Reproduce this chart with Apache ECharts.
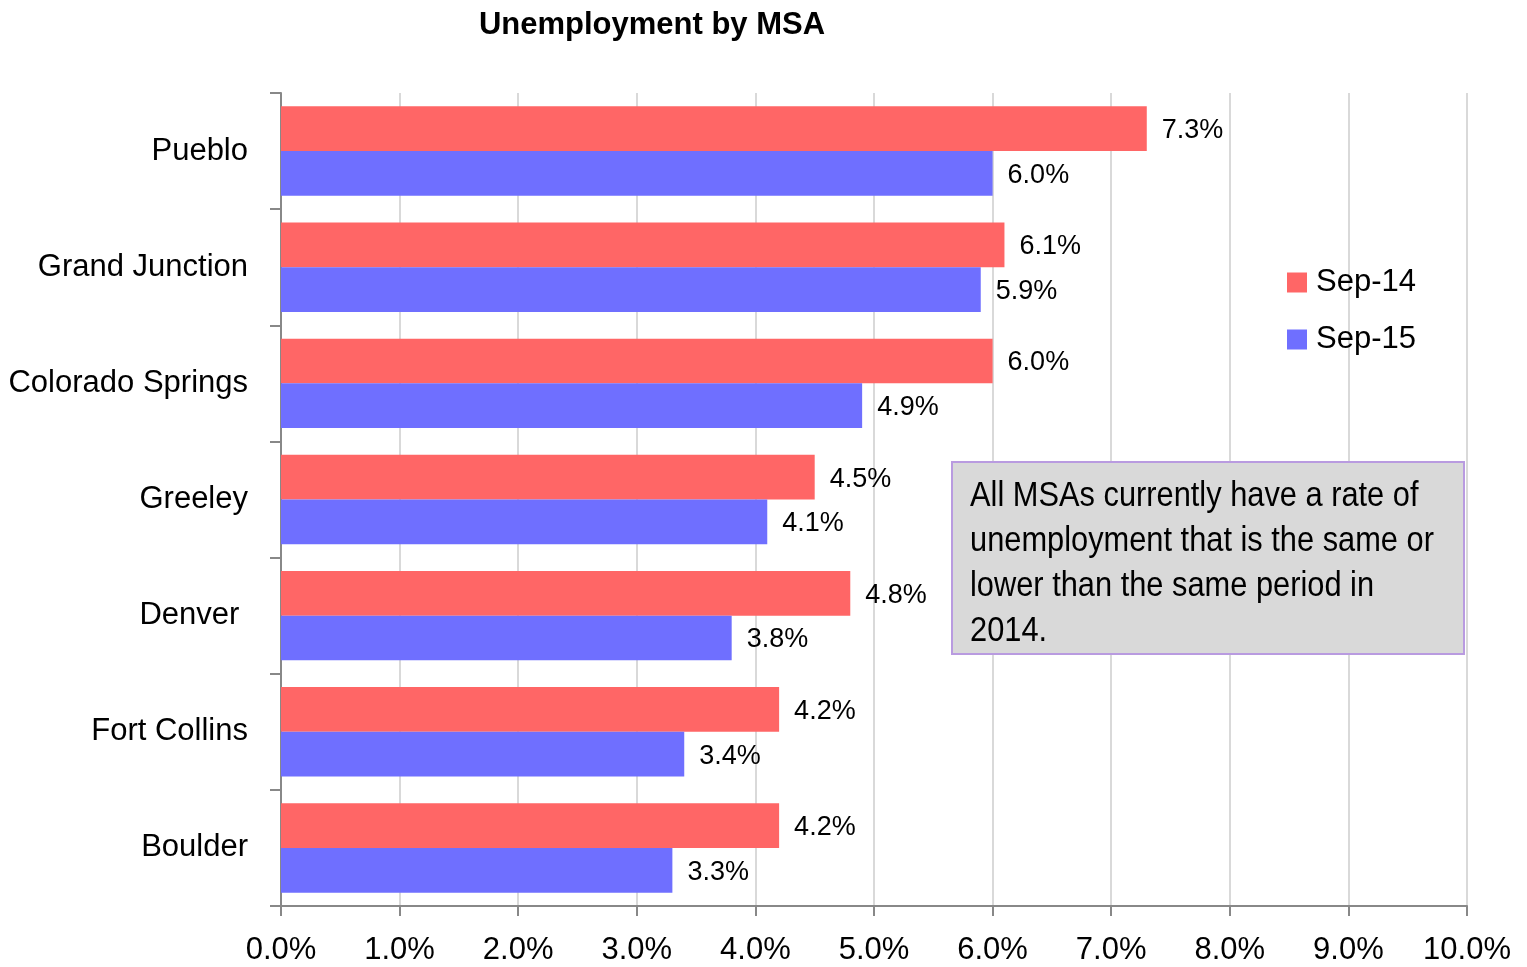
<!DOCTYPE html>
<html>
<head>
<meta charset="utf-8">
<script src="https://cdn.jsdelivr.net/npm/echarts@6/dist/echarts.min.js"></script>
<style>
  html, body { margin: 0; padding: 0; background: #fff; }
  #main { width: 1527px; height: 967px; }
</style>
</head>
<body>
<div id="main"></div>
<script>
  // 数据
  const categories = ['Pueblo', 'Grand Junction', 'Colorado Springs', 'Greeley', 'Denver ', 'Fort Collins', 'Boulder'];
  const sep14 = [7.3, 6.1, 6.0, 4.5, 4.8, 4.2, 4.2];
  const sep15 = [6.0, 5.9, 4.9, 4.1, 3.8, 3.4, 3.3];
  const xTicks = [0, 1, 2, 3, 4, 5, 6, 7, 8, 9, 10];
  const noteText = 'All MSAs currently have a rate of\nunemployment that is the same or\nlower than the same period in\n2014.';

  const FONT = '"Liberation Sans Narrow", "Arial Narrow", "Liberation Sans", sans-serif';

  const chart = echarts.init(document.getElementById('main'));

  // 数据标签
  const labelStyle = {
    show: true,
    position: 'right',
    distance: 15,
    offset: [0, 2],
    fontFamily: FONT,
    fontSize: 27,
    color: '#000',
    formatter: (p) => p.value.toFixed(1) + '%'
  };

  const option = {
    animation: false,
    backgroundColor: '#fff',
    title: {
      text: 'Unemployment by MSA',
      left: 647,
      textAlign: 'center',
      top: 5,
      textStyle: { fontFamily: FONT, fontSize: 31, fontWeight: 'bold', color: '#000' }
    },
    legend: {
      orient: 'vertical',
      left: 1282,
      top: 262,
      itemWidth: 20,
      itemHeight: 20,
      itemGap: 26,
      icon: 'rect',
      textStyle: { fontFamily: FONT, fontSize: 31, color: '#000', padding: [0, 0, 0, 4] },
      data: ['Sep-14', 'Sep-15']
    },
    grid: { left: 281, right: 60, top: 93, bottom: 61 },
    xAxis: {
      type: 'value',
      min: xTicks[0],
      max: xTicks[xTicks.length - 1],
      interval: 1,
      axisLine: { show: true, lineStyle: { color: '#888', width: 2 } },
      axisTick: { show: true, length: 10, lineStyle: { color: '#888', width: 2 } },
      splitLine: { show: true, lineStyle: { color: '#D9D9D9', width: 2 } },
      axisLabel: {
        fontFamily: FONT, fontSize: 31, color: '#000', margin: 29,
        formatter: (v) => v.toFixed(1) + '%'
      }
    },
    yAxis: {
      type: 'category',
      inverse: true,
      data: categories,
      axisLine: { show: true, lineStyle: { color: '#888', width: 2 } },
      axisTick: { show: true, length: 11, alignWithLabel: false, lineStyle: { color: '#888', width: 2 } },
      axisLabel: { fontFamily: FONT, fontSize: 31, color: '#000', margin: 33 }
    },
    series: [
      {
        name: 'Sep-14',
        type: 'bar',
        data: sep14,
        barGap: '0%',
        barCategoryGap: '23%',
        itemStyle: { color: '#FF6666' },
        label: labelStyle
      },
      {
        name: 'Sep-15',
        type: 'bar',
        data: sep15,
        itemStyle: { color: '#6F6FFF' },
        label: labelStyle
      }
    ],
    graphic: [
      {
        type: 'rect',
        left: 951,
        top: 461,
        shape: { width: 512, height: 192 },
        style: { fill: '#D9D9D9', stroke: '#B99BE0', lineWidth: 2 },
        z: 100
      },
      {
        type: 'text',
        left: 970,
        top: 474,
        scaleX: 0.88,
        style: {
          text: noteText,
          fontFamily: FONT,
          fontSize: 35,
          lineHeight: 45,
          fill: '#000'
        },
        z: 101
      }
    ]
  };

  chart.setOption(option);
</script>
</body>
</html>
